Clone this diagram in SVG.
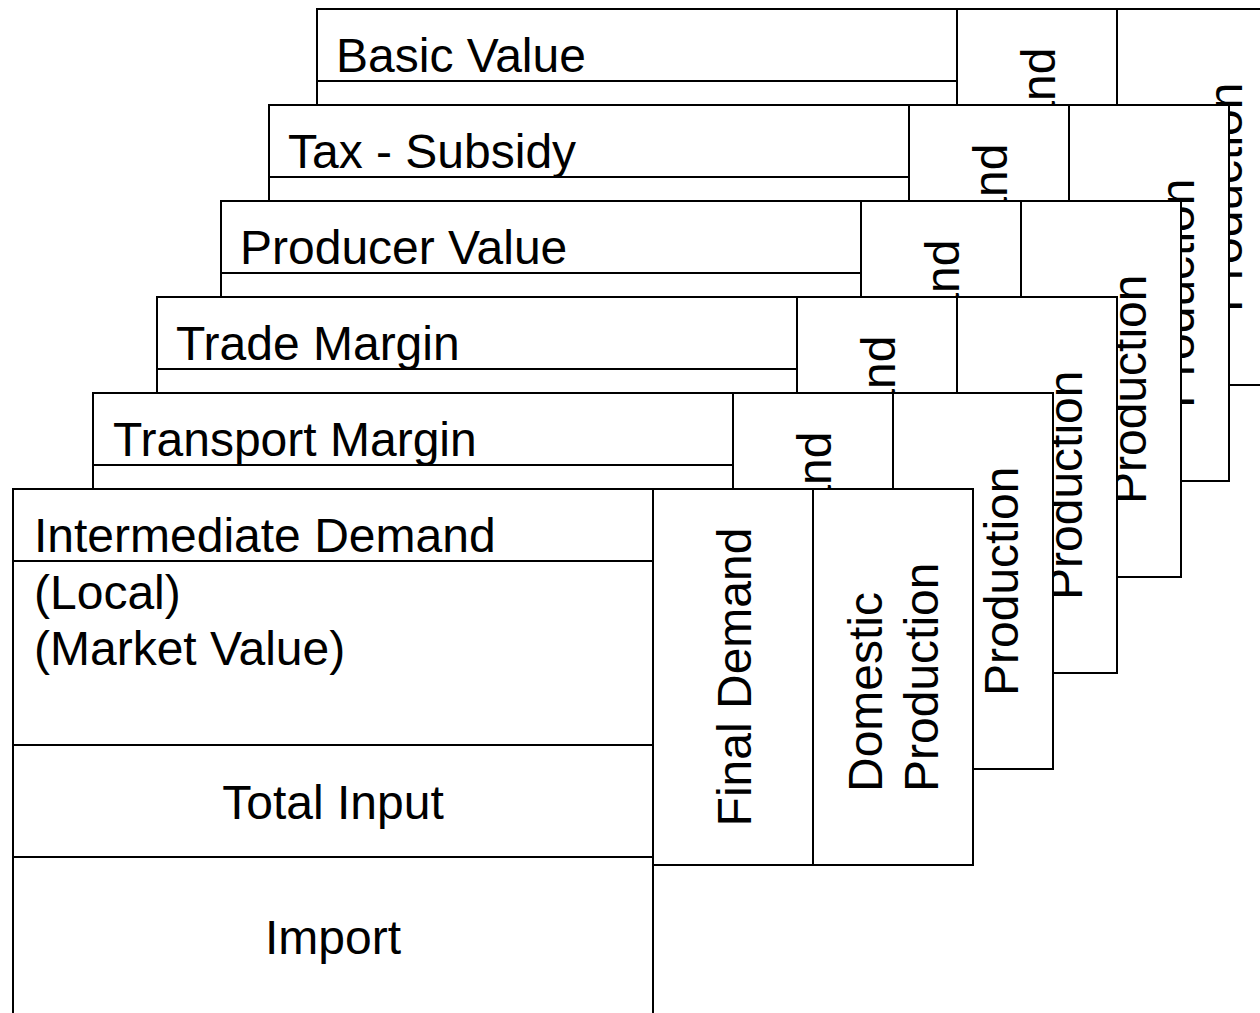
<svg xmlns="http://www.w3.org/2000/svg" width="1260" height="1013" viewBox="0 0 1260 1013">
<style>
.box{fill:#fff;stroke:#000;stroke-width:2}
.ln{fill:none;stroke:#000;stroke-width:2}
text{font-family:"Liberation Sans",Arial,sans-serif;font-size:48px;fill:#000}
.mid{text-anchor:middle}
</style>
<defs>
<g id="cols">
<rect class="box" x="640" y="0" width="320" height="376"/>
<line class="ln" x1="800" y1="0" x2="800" y2="376"/>
<text class="mid" transform="translate(738,188) rotate(-90)">Final Demand</text>
<text transform="translate(869,303) rotate(-90)">Domestic</text>
<text transform="translate(925,303) rotate(-90)">Production</text>
</g>
</defs>
<rect x="0" y="0" width="1260" height="1013" fill="#fff"/>
<g id="layer-basic-value" transform="translate(317,9)">
<rect class="box" x="0" y="0" width="640" height="376"/>
<line class="ln" x1="0" y1="72" x2="640" y2="72"/>
<text x="19" y="63">Basic Value</text>
<use href="#cols"/>
</g>
<g id="layer-tax-subsidy" transform="translate(269,105)">
<rect class="box" x="0" y="0" width="640" height="376"/>
<line class="ln" x1="0" y1="72" x2="640" y2="72"/>
<text x="19" y="63">Tax - Subsidy</text>
<use href="#cols"/>
</g>
<g id="layer-producer-value" transform="translate(221,201)">
<rect class="box" x="0" y="0" width="640" height="376"/>
<line class="ln" x1="0" y1="72" x2="640" y2="72"/>
<text x="19" y="63">Producer Value</text>
<use href="#cols"/>
</g>
<g id="layer-trade-margin" transform="translate(157,297)">
<rect class="box" x="0" y="0" width="640" height="376"/>
<line class="ln" x1="0" y1="72" x2="640" y2="72"/>
<text x="19" y="63">Trade Margin</text>
<use href="#cols"/>
</g>
<g id="layer-transport-margin" transform="translate(93,393)">
<rect class="box" x="0" y="0" width="640" height="376"/>
<line class="ln" x1="0" y1="72" x2="640" y2="72"/>
<text x="20" y="63">Transport Margin</text>
<use href="#cols"/>
</g>
<g id="layer-intermediate-demand" transform="translate(13,489)">
<rect class="box" x="0" y="0" width="640" height="545"/>
<line class="ln" x1="0" y1="72" x2="640" y2="72"/>
<line class="ln" x1="0" y1="256" x2="640" y2="256"/>
<line class="ln" x1="0" y1="368" x2="640" y2="368"/>
<text x="21" y="63">Intermediate Demand</text>
<text x="21" y="120">(Local)</text>
<text x="21" y="176">(Market Value)</text>
<text class="mid" x="320" y="330">Total Input</text>
<text class="mid" x="320" y="465">Import</text>
<use href="#cols"/>
</g>
<g id="connectors"/>
</svg>
